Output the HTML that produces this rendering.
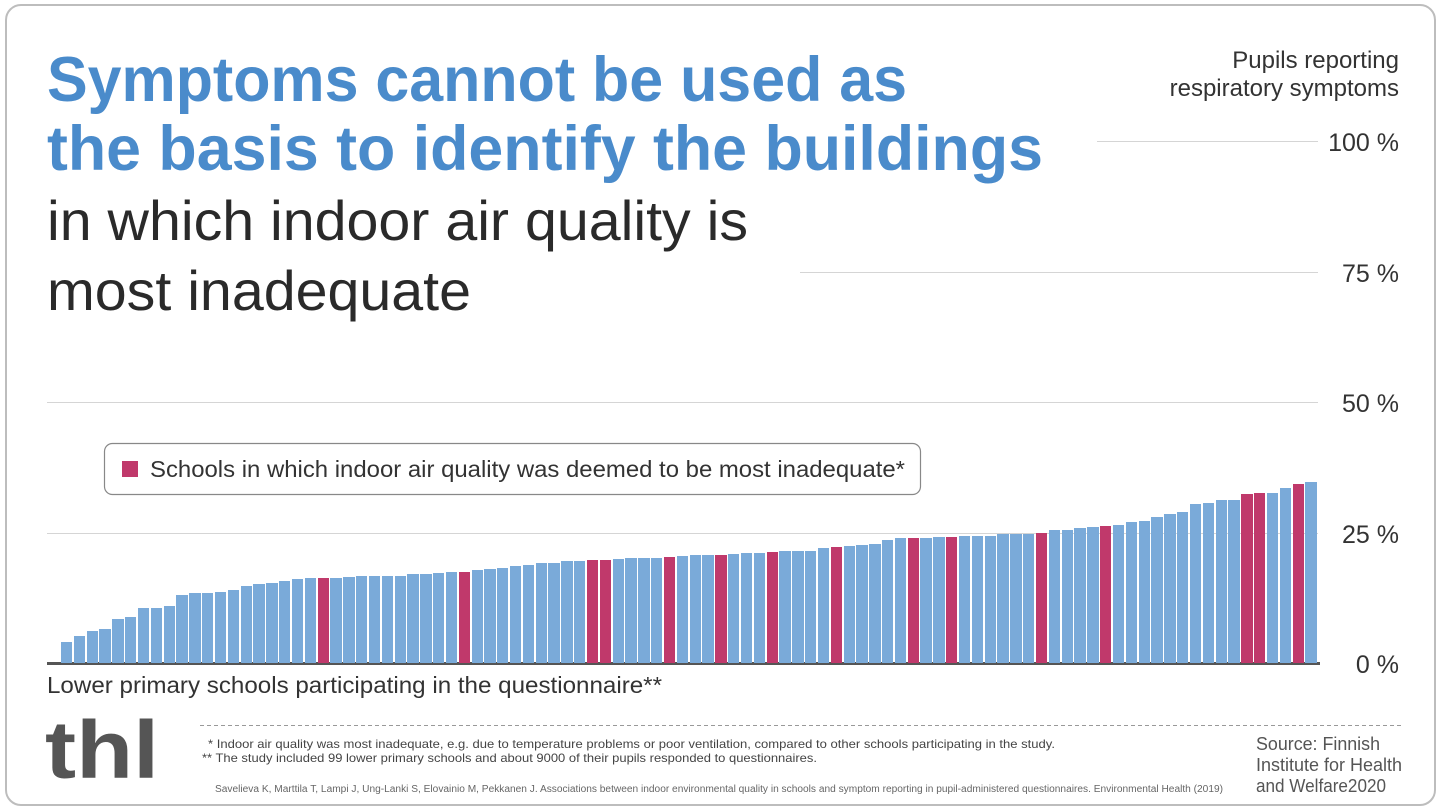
<!DOCTYPE html>
<html><head><meta charset="utf-8"><style>
*{margin:0;padding:0;box-sizing:border-box}
body{width:1440px;height:810px;background:#fff;position:relative;overflow:hidden;font-family:"Liberation Sans",sans-serif}
.frame{position:absolute;left:5px;top:4px;width:1431px;height:802px;border:2px solid #bdbdbd;border-radius:16px}
svg{position:absolute;left:0;top:0}
.bars{position:absolute;left:61px;top:141px;width:1257.5px;height:522px;display:flex;align-items:flex-end}
.bars div{flex:1;margin-right:1.5px;background:#7aaad9}
.bars div.r{background:#c0396b}
</style></head><body>
<div class="frame"></div>
<svg width="1440" height="810">
<g stroke="#d5d5d5" stroke-width="1">
<line x1="1097" y1="141.5" x2="1318" y2="141.5"/>
<line x1="800" y1="272.5" x2="1318" y2="272.5"/>
<line x1="47" y1="402.5" x2="1318" y2="402.5"/>
<line x1="47" y1="533.5" x2="1318" y2="533.5"/>
</g>
<text x="47" y="101" font-size="63" font-weight="bold" fill="#4a8bcb" textLength="860" lengthAdjust="spacingAndGlyphs">Symptoms cannot be used as</text>
<text x="47" y="170" font-size="63" font-weight="bold" fill="#4a8bcb" textLength="996" lengthAdjust="spacingAndGlyphs">the basis to identify the buildings</text>
<text x="47" y="240" font-size="56" fill="#2a2a2a" textLength="701" lengthAdjust="spacingAndGlyphs">in which indoor air quality is</text>
<text x="47" y="310" font-size="56" fill="#2a2a2a" textLength="424" lengthAdjust="spacingAndGlyphs">most inadequate</text>
<g font-size="24" fill="#333" text-anchor="end">
<text x="1399" y="68">Pupils reporting</text>
<text x="1399" y="96">respiratory symptoms</text>
</g>
<g font-size="25" fill="#333" text-anchor="end">
<text x="1399" y="151">100 %</text>
<text x="1399" y="282">75 %</text>
<text x="1399" y="412">50 %</text>
<text x="1399" y="543">25 %</text>
<text x="1399" y="673">0 %</text>
</g>
<rect x="104.5" y="443.5" width="816" height="51" rx="8" fill="#fff" stroke="#888" stroke-width="1.2"/>
<rect x="122" y="461" width="16" height="16" fill="#c0396b"/>
<text x="150" y="477" font-size="23" fill="#333" textLength="755" lengthAdjust="spacingAndGlyphs">Schools in which indoor air quality was deemed to be most inadequate*</text>
<rect x="47" y="662" width="1273" height="3" fill="#555"/>
<text x="47" y="693" font-size="23" fill="#333" textLength="615" lengthAdjust="spacingAndGlyphs">Lower primary schools participating in the questionnaire**</text>
<text x="45" y="778" font-size="82" font-weight="bold" fill="#555" textLength="114" lengthAdjust="spacingAndGlyphs">thl</text>
<line x1="200" y1="725.5" x2="1404" y2="725.5" stroke="#999" stroke-dasharray="4,3"/>
<text x="208" y="748" font-size="12" fill="#444" textLength="847" lengthAdjust="spacingAndGlyphs">* Indoor air quality was most inadequate, e.g. due to temperature problems or poor ventilation, compared to other schools participating in the study.</text>
<text x="202" y="762" font-size="12" fill="#444" textLength="615" lengthAdjust="spacingAndGlyphs">** The study included 99 lower primary schools and about 9000 of their pupils responded to questionnaires.</text>
<text x="215" y="792" font-size="10" fill="#666" textLength="1008" lengthAdjust="spacingAndGlyphs">Savelieva K, Marttila T, Lampi J, Ung-Lanki S, Elovainio M, Pekkanen J. Associations between indoor environmental quality in schools and symptom  reporting in pupil-administered questionnaires. Environmental Health (2019)</text>
<g font-size="18" fill="#555">
<text x="1256" y="750" textLength="124" lengthAdjust="spacingAndGlyphs">Source: Finnish</text>
<text x="1256" y="771" textLength="146" lengthAdjust="spacingAndGlyphs">Institute for Health</text>
<text x="1256" y="792" textLength="130" lengthAdjust="spacingAndGlyphs">and Welfare2020</text>
</g>
</svg>
<div class="bars">
<div style="height:4.1%"></div><div style="height:5.1%"></div><div style="height:6.2%"></div><div style="height:6.5%"></div><div style="height:8.4%"></div><div style="height:8.8%"></div><div style="height:10.6%"></div><div style="height:10.6%"></div><div style="height:10.9%"></div><div style="height:13%"></div>
<div style="height:13.5%"></div><div style="height:13.5%"></div><div style="height:13.6%"></div><div style="height:14%"></div><div style="height:14.7%"></div><div style="height:15.1%"></div><div style="height:15.4%"></div><div style="height:15.8%"></div><div style="height:16%"></div><div style="height:16.2%"></div>
<div class="r" style="height:16.2%"></div><div style="height:16.2%"></div><div style="height:16.4%"></div><div style="height:16.6%"></div><div style="height:16.7%"></div><div style="height:16.7%"></div><div style="height:16.7%"></div><div style="height:17%"></div><div style="height:17.1%"></div><div style="height:17.2%"></div>
<div style="height:17.5%"></div><div class="r" style="height:17.5%"></div><div style="height:17.9%"></div><div style="height:18%"></div><div style="height:18.2%"></div><div style="height:18.5%"></div><div style="height:18.8%"></div><div style="height:19.1%"></div><div style="height:19.2%"></div><div style="height:19.5%"></div>
<div style="height:19.5%"></div><div class="r" style="height:19.8%"></div><div class="r" style="height:19.8%"></div><div style="height:20%"></div><div style="height:20.1%"></div><div style="height:20.2%"></div><div style="height:20.2%"></div><div class="r" style="height:20.4%"></div><div style="height:20.5%"></div><div style="height:20.6%"></div>
<div style="height:20.6%"></div><div class="r" style="height:20.7%"></div><div style="height:20.8%"></div><div style="height:21%"></div><div style="height:21%"></div><div class="r" style="height:21.2%"></div><div style="height:21.4%"></div><div style="height:21.5%"></div><div style="height:21.5%"></div><div style="height:22.1%"></div>
<div class="r" style="height:22.3%"></div><div style="height:22.4%"></div><div style="height:22.7%"></div><div style="height:22.8%"></div><div style="height:23.6%"></div><div style="height:23.9%"></div><div class="r" style="height:23.9%"></div><div style="height:23.9%"></div><div style="height:24.1%"></div><div class="r" style="height:24.2%"></div>
<div style="height:24.3%"></div><div style="height:24.3%"></div><div style="height:24.3%"></div><div style="height:24.8%"></div><div style="height:24.8%"></div><div style="height:24.8%"></div><div class="r" style="height:24.9%"></div><div style="height:25.4%"></div><div style="height:25.5%"></div><div style="height:25.8%"></div>
<div style="height:26%"></div><div class="r" style="height:26.2%"></div><div style="height:26.4%"></div><div style="height:27.1%"></div><div style="height:27.3%"></div><div style="height:28%"></div><div style="height:28.5%"></div><div style="height:28.9%"></div><div style="height:30.5%"></div><div style="height:30.6%"></div>
<div style="height:31.2%"></div><div style="height:31.2%"></div><div class="r" style="height:32.3%"></div><div class="r" style="height:32.6%"></div><div style="height:32.6%"></div><div style="height:33.5%"></div><div class="r" style="height:34.2%"></div><div style="height:34.7%"></div>
</div>
</body></html>
